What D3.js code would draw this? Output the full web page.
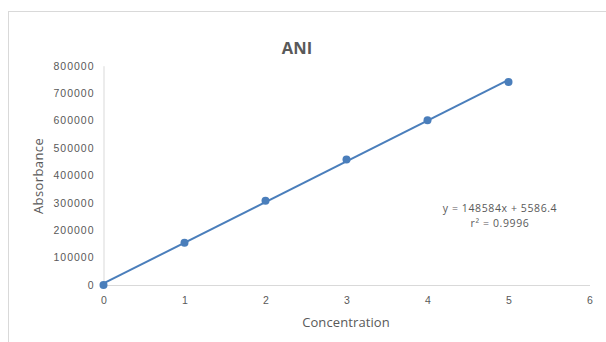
<!DOCTYPE html>
<html>
<head>
<meta charset="utf-8">
<script src="https://cdn.jsdelivr.net/npm/d3@7"></script>
<style>
html,body{margin:0;padding:0;background:#fff;}
svg{display:block;font-family:"Open Sans","Liberation Sans",sans-serif;}
</style>
</head>
<body>
<svg id="chart" width="606" height="342"></svg>
<script>
const concentration = [0, 1, 2, 3, 4, 5];
const absorbance = [0, 154000, 307600, 458000, 601000, 740600];
const xTicks = [0, 1, 2, 3, 4, 5, 6];
const yTicks = [0, 100000, 200000, 300000, 400000, 500000, 600000, 700000, 800000];
const trendSlope = 148584;
const trendIntercept = 5586.4;
const equationLines = ["y = 148584x + 5586.4", "r² = 0.9996"];
const chartTitle = "ANI";
const xTitle = "Concentration";
const yTitle = "Absorbance";

const svg = d3.select("#chart");
const blue = "#4a7ebb";
const grey = "#595959";

// outer chart border
svg.append("rect").attr("x", 8.5).attr("y", 11.5).attr("width", 640).attr("height", 360)
  .attr("fill", "none").attr("stroke", "#d9d9d9").attr("stroke-width", 1);

const x = d3.scaleLinear().domain([0, 6]).range([103.5, 589.5]);
const y = d3.scaleLinear().domain([0, 800000]).range([285, 65.7]);

// y axis
const yAxis = svg.append("g").attr("transform", `translate(${x(0)},0)`)
  .call(d3.axisLeft(y).tickValues(yTicks).tickSize(0).tickPadding(9).tickFormat(d3.format("d")));
yAxis.select(".domain").attr("stroke", "#d9d9d9");
yAxis.selectAll("text").attr("fill", grey).style("font-size", "10.5px").style("letter-spacing", "1px");

// x axis
const xAxis = svg.append("g").attr("transform", `translate(0,${y(0)})`)
  .call(d3.axisBottom(x).tickValues(xTicks).tickSize(0).tickPadding(12).tickFormat(d3.format("d")));
xAxis.select(".domain").attr("stroke", "#d9d9d9");
xAxis.selectAll("text").attr("fill", grey).style("font-size", "10.5px");

// title
svg.append("text").attr("x", 297).attr("y", 54).attr("text-anchor", "middle")
  .attr("fill", grey).style("font-size", "16.5px").style("font-weight", "bold").text(chartTitle);

// axis titles
svg.append("text").attr("x", 346).attr("y", 327).attr("text-anchor", "middle")
  .attr("fill", grey).style("font-size", "13px").style("letter-spacing", "0.1px").text(xTitle);
svg.append("text").attr("transform", `translate(43,176) rotate(-90)`).attr("text-anchor", "middle")
  .attr("fill", grey).style("font-size", "13px").style("letter-spacing", "0.4px").text(yTitle);

// trendline
const xs = d3.extent(concentration);
svg.append("line")
  .attr("x1", x(xs[0])).attr("y1", y(trendSlope * xs[0] + trendIntercept))
  .attr("x2", x(xs[1])).attr("y2", y(trendSlope * xs[1] + trendIntercept))
  .attr("stroke", blue).attr("stroke-width", 2);

// points
svg.selectAll("circle.pt").data(concentration).enter().append("circle")
  .attr("class", "pt")
  .attr("cx", d => x(d)).attr("cy", (d, i) => y(absorbance[i]))
  .attr("r", 4).attr("fill", blue);

// equation
svg.append("g").selectAll("text").data(equationLines).enter().append("text")
  .attr("x", 500).attr("y", (d, i) => 212 + i * 15).attr("text-anchor", "middle")
  .attr("fill", grey).style("font-size", "10.5px").style("letter-spacing", "0.6px").text(d => d);
</script>
</body>
</html>
